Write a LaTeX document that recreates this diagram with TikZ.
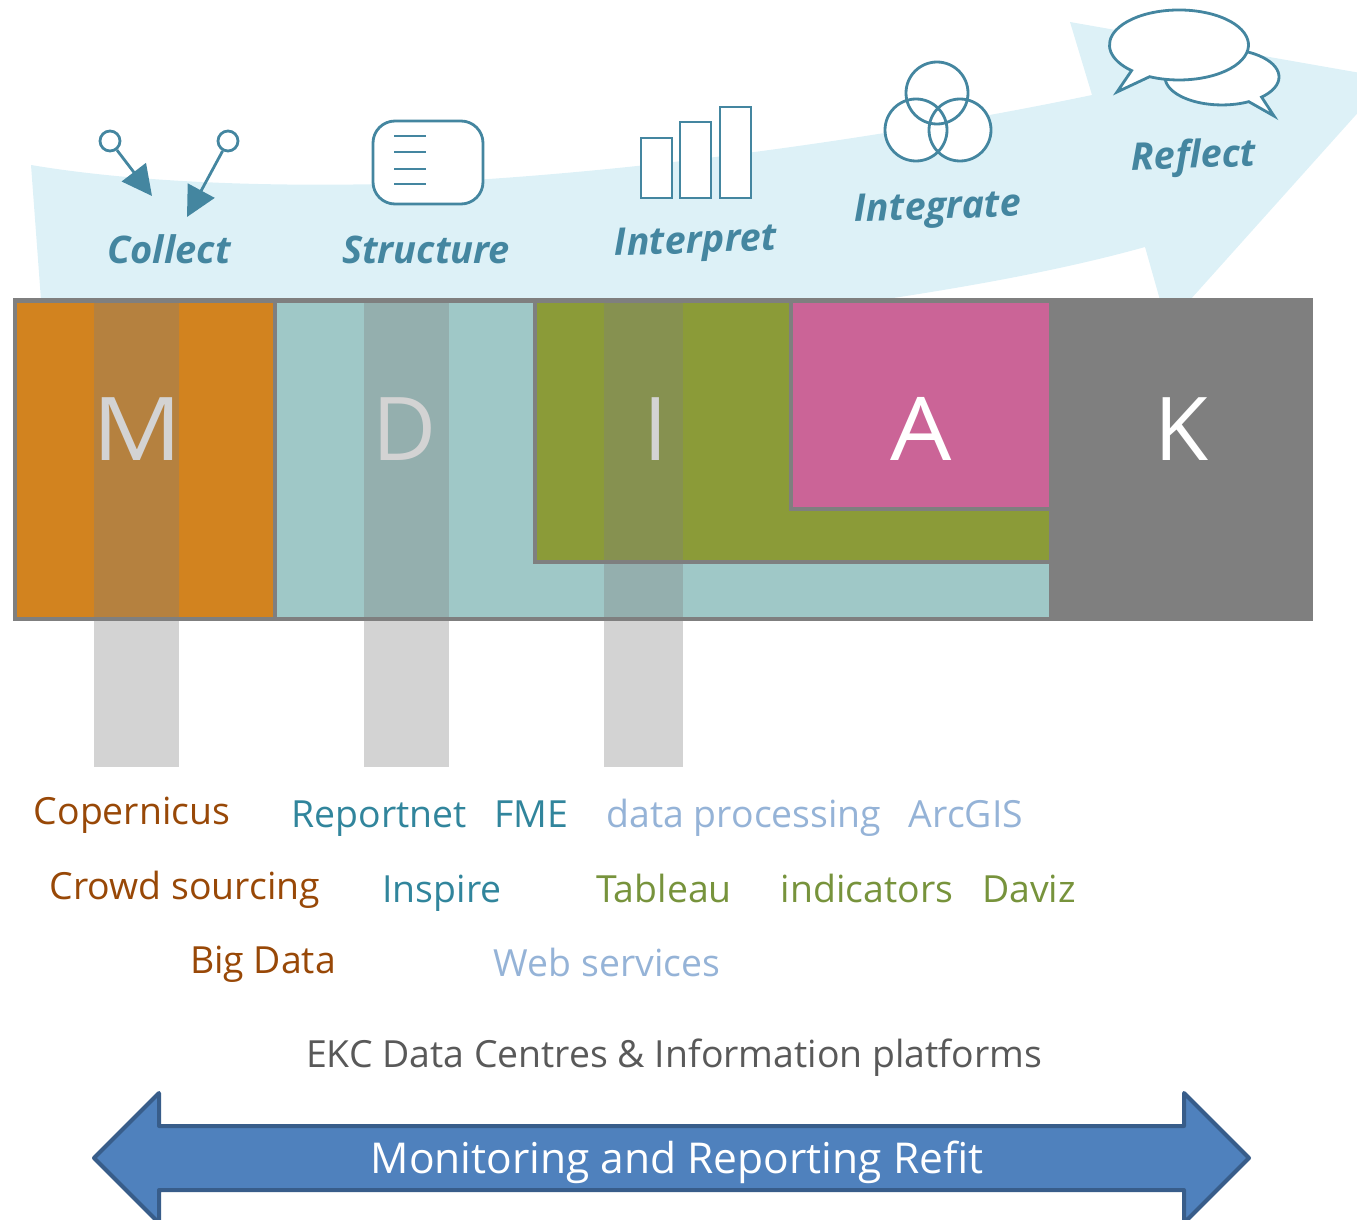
\documentclass[tikz,border=0pt]{standalone}
\usepackage{fontspec}
\setmainfont{Open Sans}
\usetikzlibrary{arrows.meta,positioning,calc}
\definecolor{flowblue}{HTML}{DDF1F7}
\definecolor{iconblue}{HTML}{4486A0}
\definecolor{barborder}{HTML}{7F7F7F}
\definecolor{morange}{HTML}{D2831F}
\definecolor{dteal}{HTML}{9FC8C7}
\definecolor{igreen}{HTML}{8B9B38}
\definecolor{apink}{HTML}{CB6497}
\definecolor{kgrey}{HTML}{7F7F7F}
\definecolor{txtbrown}{HTML}{984807}
\definecolor{txtteal}{HTML}{31859C}
\definecolor{txtblue}{HTML}{95B3D7}
\definecolor{txtgreen}{HTML}{77933C}
\definecolor{txtgrey}{HTML}{595959}
\definecolor{refitfill}{HTML}{4F81BD}
\definecolor{refitline}{HTML}{385D8A}

\begin{document}
\begin{tikzpicture}[x=1pt,y=-1pt]
\tikzstyle{icon}=[draw=iconblue,line width=2.8pt,fill=white]
\tikzstyle{stage}=[text=iconblue,font=\fontsize{38}{38}\selectfont\bfseries\itshape,anchor=base,inner sep=0pt]
\tikzstyle{letter}=[text=white,font=\fontsize{88}{88}\selectfont,anchor=base,inner sep=0pt]
\tikzstyle{tool}=[font=\fontsize{37.4}{38}\selectfont,anchor=base,inner sep=0pt]
\tikzstyle{band}=[fill=barborder,fill opacity=0.34]
\tikzstyle{pin}=[circle,draw=iconblue,line width=2.8pt,inner sep=0pt,minimum size=20pt]
\useasboundingbox (0,0) rectangle (1357,1220);
%
% flow arrow behind the bar
\begin{scope}
\clip (0,0) rectangle (1357,1220);
\fill[flowblue] (31,165) .. controls (150,185) and (300,187) .. (420,183)
  .. controls (650,172) and (900,135) .. (1092,95) -- (1070,22) -- (1389,78)
  -- (1190,300) -- (1160,300) -- (1145,247) .. controls (1070,268) and (980,285) .. (880,300) -- (41,300) -- cycle;
\end{scope}
%
% collect
\node[pin] (pinA) at (110,141) {};
\node[pin] (pinB) at (228,141) {};
\coordinate (tipA) at (152,196);
\coordinate (tipB) at (187,217);
\draw[iconblue,line width=2.8pt,-{Triangle[length=30pt,width=30pt]}] (pinA) -- (tipA);
\draw[iconblue,line width=2.8pt,-{Triangle[length=30pt,width=30pt]}] (pinB) -- (tipB);
\node[stage] (collect) at (169,263) {Collect};
% structure
\draw[icon,rounded corners=22pt] (373,121) rectangle (483,204);
\foreach \y in {136,152,169,184}
  \draw[iconblue,line width=2.8pt] (394,\y) -- (426,\y);
\node[stage] (structure) at (426,263) {Structure};
% interpret
\draw[icon] (641,138) rectangle (672,198);
\draw[icon] (680,122) rectangle (711,198);
\draw[icon] (720,107) rectangle (751,198);
\node[stage,rotate=2] (interpret) at (696,253) {Interpret};
% integrate
\fill[white] (937,93) circle (31pt) (916,130) circle (31pt) (960,130) circle (31pt);
\draw[iconblue,line width=2.8pt] (937,93) circle (31pt) (916,130) circle (31pt) (960,130) circle (31pt);
\node[stage,rotate=2] (integrate) at (938,219) {Integrate};
% reflect
\draw[icon,line join=miter] (1261.6,97.1) arc[start angle=-46,end angle=298,x radius=57pt,y radius=28pt] -- (1274,116) -- cycle;
\draw[icon,line join=miter] (1149.6,76.7) arc[start angle=-115,end angle=227,x radius=69.5pt,y radius=35pt] -- (1117,92) -- cycle;
\node[stage,rotate=2] (reflect) at (1194,168) {Reflect};
%
% M D I A K bar
\fill[barborder] (13,298) rectangle (1313,621);
\fill[morange] (17,303) rectangle (273,617);
\fill[dteal] (277,303) rectangle (1049,617);
\fill[barborder] (533,303) rectangle (1049,564);
\fill[igreen] (537,303) rectangle (1049,560);
\fill[barborder] (789,303) rectangle (1049,511);
\fill[apink] (793,303) rectangle (1049,507);
\node[letter] (M) at (137,460) {\scalebox{1.13}[1]{M}};
\node[letter] (D) at (405,460) {D};
\node[letter] (I) at (656,460) {I};
\node[letter] (A) at (921,460) {\scalebox{1.1}[1]{A}};
\node[letter] (K) at (1181,460) {K};
\fill[band] (94,303) rectangle (179,767);
\fill[band] (364,303) rectangle (449,767);
\fill[band] (604,303) rectangle (683,767);
%
% tools
\node[tool,text=txtbrown] (copernicus) at (132,824) {Copernicus};
\node[tool,text=txtbrown] (crowd) at (185,899) {Crowd sourcing};
\node[tool,text=txtbrown] (bigdata) at (263,973) {Big Data};
\node[tool,text=txtteal] (reportnet) at (379,827) {Reportnet};
\node[tool,text=txtteal] (fme) at (531,827) {FME};
\node[tool,text=txtteal] (inspire) at (442,902) {Inspire};
\node[tool,text=txtblue] (processing) at (744,827) {data processing};
\node[tool,text=txtblue] (arcgis) at (966,827) {ArcGIS};
\node[tool,text=txtblue] (webservices) at (607,976) {Web services};
\node[tool,text=txtgreen] (tableau) at (664,902) {Tableau};
\node[tool,text=txtgreen] (indicators) at (867,902) {indicators};
\node[tool,text=txtgreen] (daviz) at (1029,902) {Daviz};
\node[tool,text=txtgrey] (ekc) at (674,1067) {EKC Data Centres \& Information platforms};
%
% refit arrow
\draw[fill=refitfill,draw=refitline,line width=4pt,line join=round] (94,1158) -- (159,1093) -- (159,1126) -- (1184,1126)
  -- (1184,1093) -- (1249,1158) -- (1184,1223) -- (1184,1190) -- (159,1190) -- (159,1223) -- cycle;
\node[text=white,font=\fontsize{42.5}{43}\selectfont,anchor=base,inner sep=0pt] (refit) at (677,1173) {Monitoring and Reporting Refit};
\end{tikzpicture}
\end{document}
